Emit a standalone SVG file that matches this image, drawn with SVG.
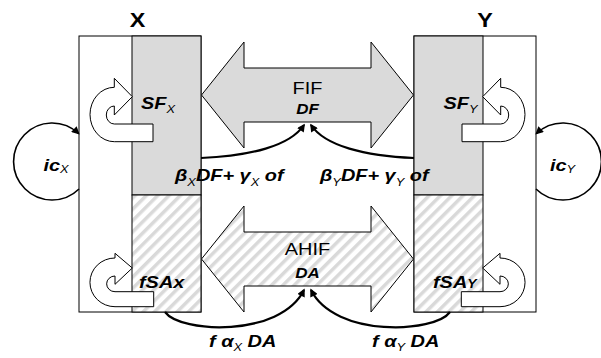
<svg xmlns="http://www.w3.org/2000/svg" width="601" height="358" viewBox="0 0 601 358">
  <defs>
    <pattern id="hatch" patternUnits="userSpaceOnUse" width="8" height="8" patternTransform="rotate(45)">
      <rect width="8" height="8" fill="#ffffff"/>
      <rect width="3.5" height="8" fill="#d9d9d9"/>
    </pattern>
    <marker id="ah" viewBox="0 0 10 10" refX="8" refY="5" markerWidth="9" markerHeight="8" markerUnits="userSpaceOnUse" orient="auto">
      <path d="M0,0 L10,5 L0,10 Z" fill="#000"/>
    </marker>
    <path id="uturnTop" d="M153,124 L114.3,124 A8,9 0 0 1 114.3,106 L114.3,115 L132.3,96.7 L114.3,78.3 L114.3,87.3 A24.3,27.2 0 0 0 114.3,141.7 L153,141.7 Z"/>
    <path id="uturnBot" d="M153.7,291.7 L115,291.7 A8.3,7.8 0 0 1 115,276 L115,284.3 L132.3,268 L115,253.3 L115,258 A25,24.3 0 0 0 115,306.7 L153.7,306.7 Z"/>
  </defs>
  <style>
    .white { fill: #ffffff; stroke: #000; stroke-width: 1; }
    .gray { fill: #dadada; stroke: #000; stroke-width: 1; }
    .hatch { fill: url(#hatch); stroke: #000; stroke-width: 1; }
    .uturn { fill: #ffffff; stroke: #000; stroke-width: 1; }
    .conn { fill: none; stroke: #000; stroke-width: 2.2; marker-end: url(#ah); }
    .loop { fill: none; stroke: #000; stroke-width: 1.6; marker-end: url(#ah); }
    text { font-family: "Liberation Sans", Arial, sans-serif; fill: #000; }
    .title { font-size: 20px; font-weight: bold; text-anchor: middle; }
    .name { font-size: 17px; text-anchor: middle; }
    .var { font-size: 14.5px; font-weight: bold; font-style: italic; text-anchor: middle; }
    .lbl { font-size: 17px; font-weight: bold; font-style: italic; }
    .sub { font-size: 11px; font-weight: normal; }
  </style>

  <!-- Country X -->
  <g id="nodeX">
    <rect class="white" x="79" y="36" width="122" height="276"/>
    <rect class="gray" x="132" y="36" width="69" height="159"/>
    <rect class="hatch" x="132" y="195" width="69" height="117"/>
    <use href="#uturnTop" class="uturn"/>
    <use href="#uturnBot" class="uturn"/>
    <text class="title" transform="translate(137.5,26.5) scale(1.17,1)">X</text>
    <text class="lbl" transform="translate(141,109) scale(1.17,1)">SF<tspan class="sub" dy="4">X</tspan></text>
    <text class="lbl" transform="translate(139,288) scale(1.17,1)">fSAx</text>
    <text class="lbl" transform="translate(43.5,171) scale(1.17,1)">ic<tspan class="sub" dy="2">X</tspan></text>
  </g>

  <!-- Country Y -->
  <g id="nodeY">
    <rect class="white" x="414" y="36" width="122" height="276"/>
    <rect class="gray" x="414" y="36" width="69" height="159"/>
    <rect class="hatch" x="414" y="195" width="69" height="117"/>
    <use href="#uturnTop" class="uturn" transform="translate(615,0) scale(-1,1)"/>
    <use href="#uturnBot" class="uturn" transform="translate(615,0) scale(-1,1)"/>
    <text class="title" transform="translate(485,26.5) scale(1.17,1)">Y</text>
    <text class="lbl" transform="translate(443.5,109) scale(1.17,1)">SF<tspan class="sub" dy="4">Y</tspan></text>
    <text class="lbl" transform="translate(433,288) scale(1.17,1)">fSA<tspan font-size="12">Y</tspan></text>
    <text class="lbl" transform="translate(550,171) scale(1.17,1)">ic<tspan class="sub" dy="2">Y</tspan></text>
  </g>

  <!-- FIF channel -->
  <g id="nodeFIF">
    <polygon class="gray" points="201.5,95 244,42 244,68 371,68 371,42 413.5,95 371,148 371,122 244,122 244,148"/>
    <text class="name" transform="translate(307.5,93.5) scale(1.17,1)">FIF</text>
    <text class="var" transform="translate(307.5,113.5) scale(1.17,1)">DF</text>
  </g>

  <!-- AHIF channel -->
  <g id="nodeAHIF">
    <polygon class="hatch" points="201.5,259 244,206 244,232 371,232 371,206 413.5,259 371,312 371,286 244,286 244,312"/>
    <text class="name" transform="translate(307.5,255) scale(1.17,1)">AHIF</text>
    <text class="var" transform="translate(307.5,278) scale(1.17,1)">DA</text>
  </g>

  <!-- Flows -->
  <g id="connectors">
    <path class="conn" d="M201,158 C250,156 290,146 304,125"/>
    <path class="conn" d="M414,158 C365,156 325,146 311,125"/>
    <path class="conn" d="M165,312 C180,333 280,338 304,290"/>
    <path class="conn" d="M450,312 C435,333 335,338 311,290"/>
    <path class="loop" d="M79,189 A38.5,38.5 0 1 1 78.5,133.5"/>
    <path class="loop" d="M536,189 A38.5,38.5 0 1 0 536.5,133.5"/>
    <text class="lbl" transform="translate(175,181) scale(1.17,1)">β<tspan class="sub" dy="5">X</tspan><tspan dy="-5">DF+ γ</tspan><tspan class="sub" dy="5">X</tspan><tspan dy="-5"> of</tspan></text>
    <text class="lbl" transform="translate(320,181) scale(1.17,1)">β<tspan class="sub" dy="5">Y</tspan><tspan dy="-5">DF+ γ</tspan><tspan class="sub" dy="5">Y</tspan><tspan dy="-5"> of</tspan></text>
    <text class="lbl" transform="translate(209,347) scale(1.17,1)">f α<tspan class="sub" dy="4">X</tspan><tspan dy="-4"> DA</tspan></text>
    <text class="lbl" transform="translate(372,347) scale(1.17,1)">f α<tspan class="sub" dy="4">Y</tspan><tspan dy="-4"> DA</tspan></text>
  </g>
</svg>
